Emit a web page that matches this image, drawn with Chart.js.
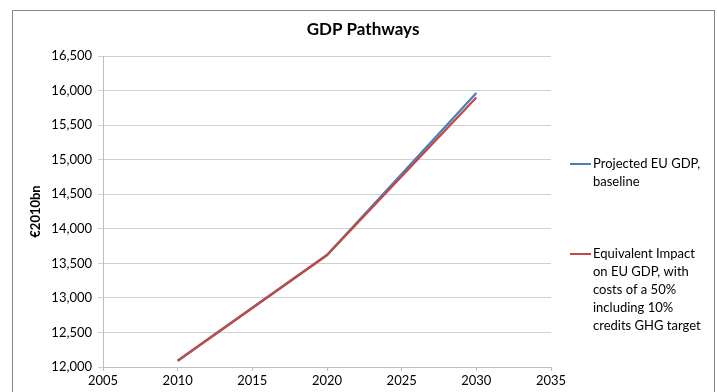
<!DOCTYPE html>
<html>
<head>
<meta charset="utf-8">
<script src="https://cdn.jsdelivr.net/npm/chart.js@4"></script>
<style>
  html, body { margin: 0; padding: 0; background: #fff; }
  #wrap { width: 717px; height: 392px; position: relative; }
</style>
</head>
<body>
<div id="wrap"><canvas id="gdpChart" width="717" height="392"></canvas></div>
<script>
const years = [2010, 2020, 2030];
const baselineGdp = [12090, 13620, 15965];
const impactGdp = [12090, 13620, 15900];
const chartTitle = "GDP Pathways";
const seriesNames = [
  ["Projected EU GDP,", "baseline"],
  ["Equivalent Impact", "on EU GDP, with", "costs of a 50%", "including 10%", "credits GHG target"]
];
const seriesColors = ["#4a7ebb", "#be4b48"];

const FONT = "Lato, 'Open Sans', sans-serif";

// frame, centred title and the wrapped legend on the right
const frameAndLegend = {
  id: 'frameAndLegend',
  beforeDraw(chart) {
    const {ctx} = chart;
    ctx.save();
    ctx.strokeStyle = "#868686";
    ctx.lineWidth = 1;
    ctx.strokeRect(12.5, 10.5, 702, 400);
    ctx.fillStyle = "#000";
    ctx.font = "bold 17px " + FONT;
    ctx.textAlign = "center";
    ctx.textBaseline = "middle";
    ctx.fillText(chartTitle, 363, 30);
    ctx.restore();
  },
  afterDraw(chart) {
    const {ctx, chartArea} = chart;
    const x0 = chartArea.right + 19;
    const starts = [164, 254];
    ctx.save();
    ctx.font = "13px " + FONT;
    ctx.textBaseline = "middle";
    ctx.fillStyle = "#000";
    seriesNames.forEach((lines, i) => {
      const y = starts[i];
      ctx.strokeStyle = seriesColors[i];
      ctx.lineWidth = 2;
      ctx.beginPath();
      ctx.moveTo(x0, y);
      ctx.lineTo(x0 + 21, y);
      ctx.stroke();
      lines.forEach((t, j) => ctx.fillText(t, x0 + 23, y + j * 18));
    });
    ctx.restore();
  }
};

new Chart(document.getElementById("gdpChart"), {
  type: "line",
  data: {
    datasets: [
      {
        label: seriesNames[0].join(" "),
        data: years.map((y, i) => ({x: y, y: baselineGdp[i]})),
        borderColor: seriesColors[0],
        borderWidth: 2.25,
        pointRadius: 0,
        tension: 0,
        order: 2
      },
      {
        label: seriesNames[1].join(" "),
        data: years.map((y, i) => ({x: y, y: impactGdp[i]})),
        borderColor: seriesColors[1],
        borderWidth: 2.25,
        pointRadius: 0,
        tension: 0,
        order: 1
      }
    ]
  },
  options: {
    responsive: false,
    animation: false,
    layout: { padding: { left: 22, right: 166, top: 56, bottom: 0 } },
    plugins: {
      legend: { display: false },
      tooltip: { enabled: false },
      title: { display: false }
    },
    scales: {
      x: {
        type: "linear",
        min: 2005,
        max: 2035,
        ticks: {
          stepSize: 5,
          color: "#000",
          font: { family: FONT, size: 13 },
          padding: 2,
          maxRotation: 0,
          callback: v => String(v)
        },
        grid: { drawOnChartArea: false, drawTicks: true, tickLength: 4, color: "#bfbfbf" },
        border: { color: "#bfbfbf" },
        afterFit(scale) { scale.height = 25; }
      },
      y: {
        min: 12000,
        max: 16500,
        ticks: {
          stepSize: 500,
          color: "#000",
          font: { family: FONT, size: 13 },
          padding: 6
        },
        grid: { color: "#d0d0d0", tickLength: 5 },
        border: { color: "#bfbfbf" },
        title: {
          display: true,
          text: "€2010bn",
          color: "#000",
          font: { family: FONT, size: 13, weight: "bold" },
          padding: { top: 6, bottom: 0 }
        },
        afterFit(scale) { scale.width = 81; }
      }
    }
  },
  plugins: [frameAndLegend]
});
</script>
</body>
</html>
